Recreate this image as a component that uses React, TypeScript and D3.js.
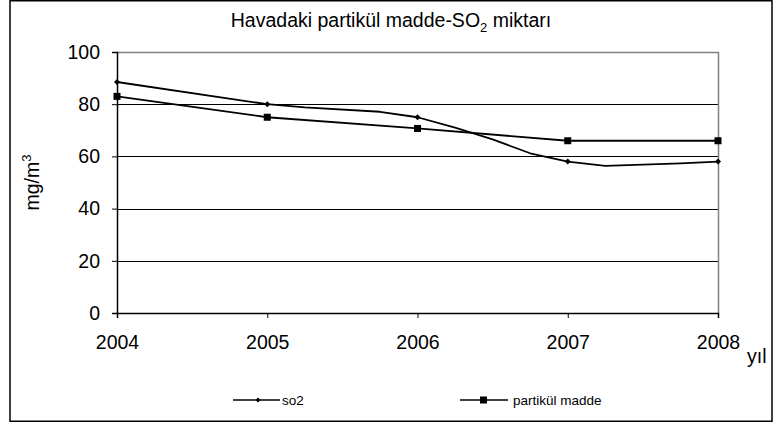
import React, { useRef, useEffect } from "react";
import * as d3 from "d3";

// yearly categories
const years = [2004, 2005, 2006, 2007, 2008];
const yTicks = [0, 20, 40, 60, 80, 100];

// so2: yearly marker values plus the extra bends of its line
const so2Values = [88.5, 80, 75, 58, 58];
const so2LineTimes = [2004, 2005, 2005.25, 2005.75, 2006, 2006.25, 2006.5, 2006.75, 2007, 2007.25, 2007.75, 2008];
const so2LineValues = [88.5, 80, 78.8, 77.1, 75, 71, 66.5, 61.2, 58, 56.4, 57.3, 58];

const partikulValues = [83, 75, 70.7, 66, 66];

const FONT = "'Liberation Sans', Arial, sans-serif";

const diamond = (r: number) => `M0,${-r}L${r},0L0,${r}L${-r},0Z`;

const App = () => {
  const ref = useRef<SVGSVGElement>(null);

  useEffect(() => {
    const svg = d3.select(ref.current);
    svg.selectAll("*").remove();

    const left = 117, right = 718, top = 52, bottom = 313;

    const x = d3.scaleLinear().domain([2004, 2008]).range([left, right]);
    const y = d3.scaleLinear().domain([0, 100]).range([bottom, top]);

    // outer frame
    svg.append("rect")
      .attr("x", 10).attr("y", 0.75)
      .attr("width", 762).attr("height", 420.5)
      .attr("fill", "#fff")
      .attr("stroke", "#000")
      .attr("stroke-width", 1.5);

    // title
    const title = svg.append("text")
      .attr("x", 391).attr("y", 26.5)
      .attr("text-anchor", "middle")
      .attr("font-family", FONT)
      .attr("font-size", 19.5)
      .attr("fill", "#000");
    title.append("tspan").text("Havadaki partikül madde-SO");
    title.append("tspan").attr("font-size", 13).attr("dy", 5).text("2");
    title.append("tspan").attr("dy", -5).text(" miktarı");

    // gridlines
    svg.append("g")
      .selectAll("line")
      .data(yTicks.filter(d => d > 0 && d < 100))
      .join("line")
      .attr("x1", left).attr("x2", right)
      .attr("y1", d => Math.round(y(d)) + 0.5)
      .attr("y2", d => Math.round(y(d)) + 0.5)
      .attr("stroke", "#000")
      .attr("stroke-width", 1);

    // plot border top/right
    svg.append("path")
      .attr("d", `M${left},${top + 0.5}H${right + 0.5}V${bottom}`)
      .attr("fill", "none")
      .attr("stroke", "#808080")
      .attr("stroke-width", 1.5);

    // y axis
    const yAxis = d3.axisLeft(y)
      .tickValues(yTicks)
      .tickSize(5)
      .tickPadding(12)
      .tickFormat(d => String(d));
    const gy = svg.append("g")
      .attr("transform", `translate(${left},0)`)
      .call(yAxis);
    gy.select(".domain").attr("stroke", "#000").attr("stroke-width", 1.5);
    gy.selectAll(".tick line").attr("stroke", "#000");
    gy.selectAll("text")
      .attr("font-family", FONT)
      .attr("font-size", 19.5)
      .attr("fill", "#000");

    // x axis
    const xAxis = d3.axisBottom(x)
      .tickValues(years)
      .tickSize(5)
      .tickPadding(17)
      .tickFormat(d => String(d));
    const gx = svg.append("g")
      .attr("transform", `translate(0,${bottom})`)
      .call(xAxis);
    gx.select(".domain").attr("stroke", "#000").attr("stroke-width", 1.5);
    gx.selectAll(".tick line").attr("stroke", "#000");
    gx.selectAll("text")
      .attr("font-family", FONT)
      .attr("font-size", 19.5)
      .attr("fill", "#000");

    // axis titles
    const yt = svg.append("text")
      .attr("transform", `translate(38.5,${(top + bottom) / 2}) rotate(-90)`)
      .attr("text-anchor", "middle")
      .attr("font-family", FONT)
      .attr("font-size", 19.5)
      .attr("fill", "#000");
    yt.append("tspan").text("mg/m");
    yt.append("tspan").attr("font-size", 13).attr("dy", -8).text("3");

    svg.append("text")
      .attr("x", 747).attr("y", 363)
      .attr("font-family", FONT)
      .attr("font-size", 19.5)
      .attr("fill", "#000")
      .text("yıl");

    // so2 line
    const so2Pts: [number, number][] = so2LineTimes.map((t, i) => [t, so2LineValues[i]]);
    const line = d3.line<[number, number]>()
      .x(d => x(d[0]))
      .y(d => y(d[1]));

    svg.append("path")
      .datum(so2Pts)
      .attr("d", line)
      .attr("fill", "none")
      .attr("stroke", "#000")
      .attr("stroke-width", 1.8)
      .attr("stroke-linejoin", "round");

    svg.append("g")
      .selectAll("path")
      .data(years.map((yr, i) => [yr, so2Values[i]] as [number, number]))
      .join("path")
      .attr("transform", d => `translate(${x(d[0])},${y(d[1])})`)
      .attr("d", diamond(3))
      .attr("fill", "#000");

    // partikül madde line
    const partPts: [number, number][] = years.map((yr, i) => [yr, partikulValues[i]]);
    svg.append("path")
      .datum(partPts)
      .attr("d", line)
      .attr("fill", "none")
      .attr("stroke", "#000")
      .attr("stroke-width", 1.8);

    svg.append("g")
      .selectAll("rect")
      .data(partPts)
      .join("rect")
      .attr("x", d => x(d[0]) - 3.5)
      .attr("y", d => y(d[1]) - 3.5)
      .attr("width", 7)
      .attr("height", 7)
      .attr("fill", "#000");

    // legend
    const legY = 400;
    const leg1 = svg.append("g");
    leg1.append("line")
      .attr("x1", 233).attr("x2", 280)
      .attr("y1", legY).attr("y2", legY)
      .attr("stroke", "#000").attr("stroke-width", 1.5);
    leg1.append("path")
      .attr("transform", `translate(258,${legY})`)
      .attr("d", diamond(2.5))
      .attr("fill", "#000");
    leg1.append("text")
      .attr("x", 282).attr("y", legY + 5)
      .attr("font-family", FONT).attr("font-size", 13.5)
      .attr("fill", "#000")
      .text("so2");

    const leg2 = svg.append("g");
    leg2.append("line")
      .attr("x1", 460).attr("x2", 508)
      .attr("y1", legY).attr("y2", legY)
      .attr("stroke", "#000").attr("stroke-width", 1.5);
    leg2.append("rect")
      .attr("x", 480).attr("y", legY - 3.5)
      .attr("width", 7).attr("height", 7)
      .attr("fill", "#000");
    leg2.append("text")
      .attr("x", 513).attr("y", legY + 5)
      .attr("font-family", FONT).attr("font-size", 13.5)
      .attr("fill", "#000")
      .text("partikül madde");
  }, []);

  return (
    <svg
      ref={ref}
      width={781}
      height={425}
      style={{ position: "absolute", left: 0, top: 0, background: "#fff" }}
    />
  );
};

export default App;
